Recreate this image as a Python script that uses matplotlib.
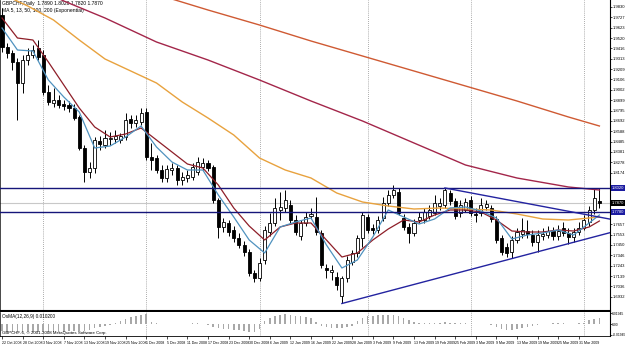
import numpy as np
import pandas as pd
import matplotlib
matplotlib.use("Agg")
import matplotlib.pyplot as plt

################## Data ##################

# daily bars, weekdays 22 Oct 2008 - 6 Apr 2009, no bar on 25 Dec and 1 Jan
dates = pd.bdate_range("2008-10-22", "2009-04-06")
dates = dates[~dates.isin(pd.to_datetime(["2008-12-25", "2009-01-01"]))]

opens = [1.975, 1.943, 1.937, 1.928, 1.907, 1.930, 1.935, 1.942, 1.935, 1.898,
         1.887, 1.890, 1.886, 1.885, 1.882, 1.873, 1.842, 1.818, 1.822, 1.849,
         1.845, 1.851, 1.851, 1.850, 1.853, 1.871, 1.867, 1.868, 1.878, 1.833,
         1.832, 1.820, 1.812, 1.820, 1.822, 1.810, 1.812, 1.813, 1.818, 1.823,
         1.827, 1.823, 1.790, 1.763, 1.767, 1.760, 1.752, 1.745, 1.738, 1.717,
         1.712, 1.730, 1.758, 1.767, 1.780, 1.782, 1.785, 1.770, 1.754, 1.767,
         1.774, 1.773, 1.757, 1.722, 1.718, 1.713, 1.694, 1.712, 1.728, 1.737,
         1.752, 1.773, 1.762, 1.760, 1.772, 1.787, 1.795, 1.798, 1.772, 1.763,
         1.757, 1.770, 1.770, 1.774, 1.777, 1.784, 1.785, 1.797, 1.789, 1.777,
         1.780, 1.790, 1.776, 1.777, 1.783, 1.782, 1.771, 1.752, 1.743, 1.738,
         1.750, 1.756, 1.759, 1.755, 1.748, 1.754, 1.755, 1.759, 1.754, 1.762,
         1.757, 1.753, 1.758, 1.762, 1.768, 1.780, 1.789]
highs = [1.982, 1.947, 1.940, 1.932, 1.935, 1.942, 1.945, 1.950, 1.940, 1.905,
         1.902, 1.895, 1.890, 1.889, 1.886, 1.875, 1.845, 1.828, 1.853, 1.854,
         1.860, 1.858, 1.860, 1.857, 1.877, 1.875, 1.875, 1.882, 1.882, 1.847,
         1.835, 1.825, 1.825, 1.827, 1.825, 1.818, 1.820, 1.827, 1.833, 1.832,
         1.830, 1.825, 1.792, 1.772, 1.770, 1.764, 1.757, 1.749, 1.741, 1.720,
         1.732, 1.764, 1.777, 1.792, 1.798, 1.800, 1.790, 1.775, 1.770, 1.778,
         1.782, 1.793, 1.760, 1.726, 1.725, 1.718, 1.714, 1.734, 1.740, 1.755,
         1.778, 1.776, 1.766, 1.774, 1.793, 1.800, 1.805, 1.802, 1.776, 1.767,
         1.771, 1.778, 1.782, 1.785, 1.795, 1.792, 1.802, 1.800, 1.792, 1.790,
         1.792, 1.794, 1.782, 1.792, 1.790, 1.785, 1.774, 1.755, 1.747, 1.754,
         1.762, 1.772, 1.770, 1.760, 1.760, 1.762, 1.764, 1.763, 1.765, 1.768,
         1.762, 1.762, 1.768, 1.775, 1.784, 1.802, 1.802]
lows = [1.938, 1.932, 1.920, 1.870, 1.897, 1.925, 1.932, 1.930, 1.895, 1.885,
        1.883, 1.882, 1.880, 1.878, 1.870, 1.840, 1.808, 1.812, 1.817, 1.840,
        1.842, 1.845, 1.847, 1.847, 1.850, 1.862, 1.863, 1.865, 1.830, 1.820,
        1.817, 1.808, 1.808, 1.815, 1.805, 1.805, 1.808, 1.810, 1.815, 1.820,
        1.819, 1.787, 1.752, 1.758, 1.754, 1.748, 1.742, 1.734, 1.714, 1.708,
        1.709, 1.726, 1.754, 1.764, 1.770, 1.778, 1.767, 1.755, 1.750, 1.764,
        1.771, 1.755, 1.722, 1.712, 1.710, 1.700, 1.687, 1.708, 1.725, 1.733,
        1.743, 1.757, 1.756, 1.757, 1.769, 1.784, 1.792, 1.775, 1.760, 1.747,
        1.754, 1.767, 1.767, 1.771, 1.775, 1.780, 1.782, 1.785, 1.771, 1.773,
        1.778, 1.774, 1.768, 1.774, 1.780, 1.768, 1.747, 1.735, 1.733, 1.732,
        1.747, 1.752, 1.752, 1.744, 1.738, 1.750, 1.752, 1.750, 1.750, 1.754,
        1.746, 1.748, 1.755, 1.760, 1.764, 1.776, 1.782]
closes = [1.943, 1.937, 1.928, 1.907, 1.930, 1.935, 1.940, 1.933, 1.898, 1.888,
          1.890, 1.885, 1.884, 1.882, 1.872, 1.842, 1.818, 1.822, 1.850, 1.846,
          1.852, 1.852, 1.854, 1.854, 1.870, 1.867, 1.870, 1.877, 1.833, 1.830,
          1.820, 1.812, 1.821, 1.822, 1.810, 1.813, 1.815, 1.823, 1.828, 1.827,
          1.822, 1.790, 1.763, 1.768, 1.758, 1.752, 1.745, 1.738, 1.717, 1.712,
          1.727, 1.760, 1.767, 1.782, 1.783, 1.790, 1.770, 1.758, 1.767, 1.773,
          1.776, 1.758, 1.725, 1.720, 1.720, 1.705, 1.712, 1.730, 1.737, 1.752,
          1.775, 1.760, 1.760, 1.770, 1.787, 1.795, 1.800, 1.777, 1.763, 1.757,
          1.767, 1.773, 1.778, 1.780, 1.787, 1.787, 1.800, 1.789, 1.774, 1.785,
          1.788, 1.777, 1.775, 1.785, 1.786, 1.771, 1.750, 1.738, 1.737, 1.750,
          1.758, 1.760, 1.756, 1.748, 1.755, 1.756, 1.759, 1.754, 1.759, 1.757,
          1.753, 1.758, 1.762, 1.770, 1.780, 1.792, 1.787]

# moving averages, read every few bars
fast_bars = [0, 3, 6, 9, 12, 15, 18, 21, 24, 27, 30, 33, 36, 39, 42, 45, 48, 51, 54, 57,
             60, 63, 66, 69, 72, 75, 78, 81, 84, 87, 90, 93, 96, 99, 102, 105, 108, 111, 114, 116]
ma_fast = [1.962, 1.940, 1.939, 1.910, 1.893, 1.878, 1.842, 1.844, 1.853, 1.864,
           1.843, 1.828, 1.820, 1.820, 1.795, 1.773, 1.750, 1.737, 1.763, 1.768,
           1.772, 1.745, 1.722, 1.730, 1.753, 1.780, 1.773, 1.766, 1.771, 1.782,
           1.783, 1.779, 1.772, 1.751, 1.755, 1.757, 1.760, 1.755, 1.767, 1.775]
ma_mid = [1.972, 1.952, 1.950, 1.928, 1.905, 1.882, 1.863, 1.853, 1.856, 1.862,
          1.850, 1.838, 1.826, 1.822, 1.805, 1.782, 1.764, 1.750, 1.763, 1.767,
          1.767, 1.750, 1.733, 1.737, 1.750, 1.761, 1.770, 1.768, 1.775, 1.780,
          1.780, 1.778, 1.770, 1.759, 1.758, 1.758, 1.760, 1.759, 1.763, 1.769]

slow_bars = [0, 5, 10, 15, 20, 25, 30, 35, 40, 45, 50, 55, 60, 65, 70, 75, 80, 85,
             90, 95, 100, 105, 110, 116]
ma_slow = [1.996, 1.984, 1.970, 1.950, 1.931, 1.919, 1.907, 1.888, 1.872, 1.855,
           1.832, 1.820, 1.812, 1.797, 1.788, 1.784, 1.781, 1.782, 1.781, 1.780,
           1.776, 1.771, 1.770, 1.773]

long_bars = [10, 12, 20, 30, 40, 50, 60, 70, 80, 90, 100, 110, 116]
ma_long = [1.994, 1.989, 1.972, 1.948, 1.930, 1.910, 1.889, 1.869, 1.847, 1.825,
           1.812, 1.803, 1.800]

top_bars = [33, 40, 50, 60, 70, 80, 90, 100, 110, 116]
ma_top = [1.991, 1.980, 1.965, 1.949, 1.934, 1.919, 1.904, 1.889, 1.873, 1.864]

# OsMA(12,26,9) histogram
osma = [-0.0128, -0.0136, -0.0136, -0.0136, -0.0136, -0.0136, -0.0136, -0.0136, -0.0136, -0.0136,
        -0.0136, -0.0136, -0.0136, -0.0128, -0.0119, -0.0119, -0.0128, -0.0102, -0.0068, -0.0051,
        -0.0034, -0.0017, 0.0017, 0.0051, 0.0085, 0.0119, 0.0136, 0.0170, 0.0187, 0.0034,
        0.0017, 0.0009, 0.0009, 0.0009, 0.0005, 0.0009, 0.0009, 0.0014, 0.0017, 0.0009,
        -0.0017, -0.0051, -0.0068, -0.0085, -0.0085, -0.0102, -0.0102, -0.0119, -0.0136, -0.0136,
        -0.0085, 0.0051, 0.0102, 0.0153, 0.0170, 0.0187, 0.0170, 0.0153, 0.0153, 0.0119,
        0.0102, 0.0034, -0.0034, -0.0051, -0.0068, -0.0068, -0.0068, -0.0051, -0.0034, 0.0051,
        0.0102, 0.0136, 0.0153, 0.0170, 0.0170, 0.0170, 0.0170, 0.0136, 0.0102, 0.0068,
        0.0034, 0.0017, 0.0017, 0.0017, 0.0026, 0.0026, 0.0034, 0.0026, 0.0017, 0.0017,
        0.0017, 0.0009, 0.0005, 0.0005, 0.0005, -0.0009, -0.0051, -0.0085, -0.0102, -0.0102,
        -0.0085, -0.0068, -0.0051, -0.0034, -0.0017, 0.0009, 0.0009, 0.0017, 0.0017, 0.0017,
        0.0009, 0.0009, 0.0014, 0.0026, 0.0068, 0.0085, 0.0102]

# support / resistance lines and trendlines
h_levels = [1.802, 1.778]
last_price = 1.787
tl_low_bars = [66, 99]
tl_low_prices = [1.6865, 1.7314]
tl_high_bars = [86, 113]
tl_high_prices = [1.802, 1.7758]

price_ticks = [1.9830, 1.9727, 1.9623, 1.9520, 1.9416, 1.9313, 1.9209, 1.9106, 1.9002,
               1.8899, 1.8795, 1.8692, 1.8588, 1.8485, 1.8381, 1.8278, 1.8174, 1.8071,
               1.7967, 1.7864, 1.7760, 1.7657, 1.7553, 1.7450, 1.7346, 1.7243, 1.7139,
               1.7036, 1.6932]
osma_ticks = [0.0194, 0.0, -0.0194]
osma_tick_labels = ["0.01945", "0.00", "-0.01945"]

title = "GBPCHF,Daily  1.7890 1.8020 1.7820 1.7870"
subtitle = "MA 5, 13, 50, 100, 200 (Exponential)"
osma_title = "OsMA(12,26,9) 0.010200"
copyright_txt = "GBPCHF-6, \u00a9 2001-2008 MetaQuotes Software Corp."

################## Plot ##################

# Arial-like metrics keep the tiny terminal labels narrow
plt.rcParams["font.family"] = ["Liberation Sans", "DejaVu Sans"]

W, H = 625, 345
n = len(closes)
bars = np.arange(n)
o = np.array(opens)
c = np.array(closes)

fig = plt.figure(figsize=(W / 100, H / 100), dpi=100)
ax = fig.add_axes([0, (H - 311) / H, 610 / W, 311 / H])
axo = fig.add_axes([0, (H - 336) / H, 610 / W, 24 / H], sharex=ax)

# month separators
month_starts = [i for i in range(1, n) if dates[i].month != dates[i - 1].month]
for a in (ax, axo):
    for m in month_starts:
        a.axvline(m, color="#909090", lw=0.6, ls=(0, (1, 1.5)), zorder=0)

# candles
ax.vlines(bars, lows, highs, color="black", lw=0.7, zorder=2)
up = c >= o
ax.bar(bars[up], (c - o)[up], bottom=o[up], width=0.6, color="white",
       edgecolor="black", lw=0.6, zorder=3)
ax.bar(bars[~up], (o - c)[~up], bottom=c[~up], width=0.6, color="black",
       edgecolor="black", lw=0.6, zorder=3)

# moving averages
ax.plot(top_bars, ma_top, color="#CF5A33", lw=1.0, zorder=4)
ax.plot(long_bars, ma_long, color="#A3264A", lw=1.0, zorder=4)
ax.plot(slow_bars, ma_slow, color="#E8A23E", lw=1.0, zorder=4)
ax.plot(fast_bars, ma_mid, color="#8E1E28", lw=0.9, zorder=4)
ax.plot(fast_bars, ma_fast, color="#4F92BF", lw=0.9, zorder=5)

# horizontal levels and current price
for lv in h_levels:
    ax.axhline(lv, color="#15157A", lw=1.0, zorder=6)
ax.axhline(last_price, color="#C8C8C8", lw=0.8, zorder=1)

# trendlines (rays to the right edge)
x_end = 118.1
for tb, tp in ((tl_low_bars, tl_low_prices), (tl_high_bars, tl_high_prices)):
    slope = (tp[1] - tp[0]) / (tb[1] - tb[0])
    ax.plot([tb[0], x_end], [tp[0], tp[0] + slope * (x_end - tb[0])],
            color="#2323A0", lw=1.0, zorder=6)

ax.set_xlim(-0.39, 118.06)
ax.set_ylim(1.679, 1.990)

# right price scale, labels under the boxes are left out like the terminal does
shown = [p for p in price_ticks
         if min(abs(p - lv) for lv in h_levels + [last_price]) > 0.0065]
ax.yaxis.tick_right()
ax.set_yticks(shown)
ax.set_yticklabels(["%.4f" % p for p in shown])
ax.tick_params(axis="y", labelsize=3.0, length=1.5, width=0.5, pad=0.6)
ax.tick_params(axis="x", bottom=False, labelbottom=False)

for a in (ax, axo):
    a.spines["top"].set_visible(False)
    a.spines["left"].set_linewidth(0.5)
    a.spines["right"].set_linewidth(0.8)
ax.spines["bottom"].set_linewidth(1.5)

# price boxes on the scale
box_kw = dict(transform=ax.get_yaxis_transform(), ha="left", va="center",
              fontsize=3.0, color="white", clip_on=False, zorder=20)
for lv in h_levels:
    ax.text(1.003, lv, "%.4f" % lv,
            bbox=dict(boxstyle="square,pad=0.2", fc="#1B1BA0", ec="none"), **box_kw)
ax.text(1.003, last_price, "%.4f" % last_price,
        bbox=dict(boxstyle="square,pad=0.2", fc="black", ec="none"), **box_kw)

ax.text(0.004, 0.997, title, transform=ax.transAxes, fontsize=3.6, va="top", ha="left")
ax.text(0.004, 0.975, subtitle, transform=ax.transAxes, fontsize=3.6, va="top", ha="left")

# OsMA panel
axo.bar(bars, osma, width=0.3, color="#A8A8A8", zorder=2)
axo.set_ylim(-0.0216, 0.0216)
axo.yaxis.tick_right()
axo.set_yticks(osma_ticks)
axo.set_yticklabels(osma_tick_labels)
axo.tick_params(axis="y", labelsize=2.4, length=1.2, width=0.5, pad=0.5)
axo.spines["bottom"].set_linewidth(0.6)
axo.text(0.004, 0.93, osma_title, transform=axo.transAxes, fontsize=3.4, va="top", ha="left")
axo.text(0.004, 0.04, copyright_txt, transform=axo.transAxes, fontsize=3.2, va="bottom", ha="left")

date_ticks = list(range(0, n - 3, 4))
axo.set_xticks(date_ticks)
axo.set_xticklabels([dates[i].strftime("%-d %b %Y") for i in date_ticks], ha="left")
axo.tick_params(axis="x", labelsize=2.6, length=2.5, width=0.5, pad=0.8)

fig.savefig("out.png", dpi=100, facecolor="white")
